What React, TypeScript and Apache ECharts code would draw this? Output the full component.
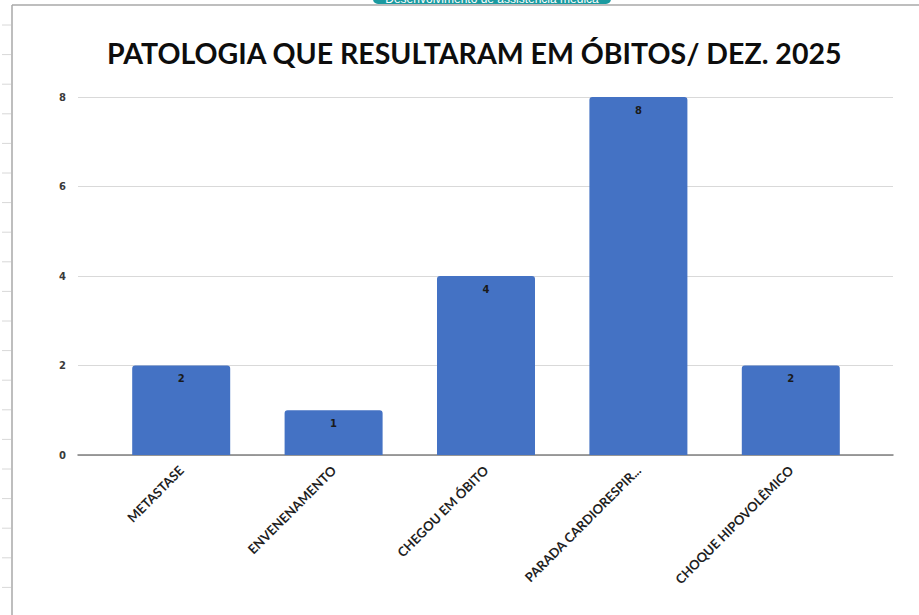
import React, { useEffect, useRef } from "react";
import * as echarts from "echarts";

const titleText = "PATOLOGIA QUE RESULTARAM EM ÓBITOS/ DEZ. 2025";
const categories = ["METASTASE", "ENVENENAMENTO", "CHEGOU EM ÓBITO", "PARADA CARDIORESPIR...", "CHOQUE HIPOVOLÊMICO"];
const deaths = [2, 1, 4, 8, 2];
const yTicks = [0, 2, 4, 6, 8];

export default function App() {
  const ref = useRef<HTMLDivElement>(null);
  useEffect(() => {
    if (!ref.current) return;
    const chart = echarts.init(ref.current, null, { renderer: "svg" });
    const rowLines: any[] = [];
    for (let i = 0; i < 21; i++) {
      const y = 25 + i * 29.6;
      rowLines.push({
        type: "line",
        shape: { x1: 2, y1: y, x2: 11, y2: y },
        style: { stroke: "#d8d8d8", lineWidth: 1 },
        silent: true,
      });
    }
    const yMin = yTicks[0];
    const yMax = yTicks[yTicks.length - 1];
    chart.setOption({
      animation: false,
      backgroundColor: "#ffffff",
      title: {
        text: titleText,
        left: 102,
        top: 33,
        textStyle: {
          fontFamily: "Lato",
          fontWeight: "bold",
          fontSize: 28.5,
          color: "#0d0d0d",
        },
      },
      graphic: [
        ...rowLines,
        {
          type: "line",
          shape: { x1: 12, y1: 5, x2: 919, y2: 5 },
          style: { stroke: "#a8a8a8", lineWidth: 1.5 },
          silent: true,
        },
        {
          type: "line",
          shape: { x1: 12, y1: 5, x2: 12, y2: 615 },
          style: { stroke: "#a8a8a8", lineWidth: 1.5 },
          silent: true,
        },
        {
          type: "rect",
          shape: { x: 373, y: -10, width: 238, height: 14, r: 5 },
          style: { fill: "#1b9aa0" },
          silent: true,
        },
        {
          type: "text",
          x: 492,
          y: -7,
          style: {
            text: "Desenvolvimento de assistência médica",
            fill: "#ffffff",
            font: "12px 'Liberation Sans'",
            align: "center",
            verticalAlign: "top",
          },
          silent: true,
        },
      ],
      grid: [
        { left: 78, right: 26, top: 97, bottom: 160, containLabel: false },
        { left: 105, right: 52, top: 97, bottom: 160, containLabel: false },
      ],
      xAxis: [
        {
          type: "category",
          gridIndex: 0,
          data: [""],
          axisLine: { show: true, lineStyle: { color: "#7f7f7f", width: 1.5 } },
          axisTick: { show: false },
          axisLabel: { show: false },
        },
        {
          type: "category",
          gridIndex: 1,
          data: categories,
          axisLine: { show: false },
          axisTick: { show: false },
          axisLabel: {
            rotate: 45,
            margin: 13,
            interval: 0,
            fontFamily: "Lato",
            fontWeight: "bold",
            fontSize: 13,
            color: "#1f1f1f",
          },
        },
      ],
      yAxis: [
        {
          type: "value",
          gridIndex: 0,
          min: yMin,
          max: yMax,
          interval: 2,
          axisLine: { show: false },
          axisTick: { show: false },
          splitLine: { lineStyle: { color: "#d9d9d9", width: 1 } },
          axisLabel: {
            margin: 12,
            fontFamily: "DejaVu Sans",
            fontWeight: "bold",
            fontSize: 10,
            color: "#3a3a3a",
          },
        },
        {
          type: "value",
          gridIndex: 1,
          min: yMin,
          max: yMax,
          interval: 2,
          show: false,
          splitLine: { show: false },
        },
      ],
      series: [
        {
          type: "bar",
          xAxisIndex: 1,
          yAxisIndex: 1,
          data: deaths,
          barWidth: 98,
          itemStyle: { color: "#4472c4", borderRadius: [3, 3, 0, 0] },
          label: {
            show: true,
            position: "insideTop",
            distance: 8,
            fontFamily: "DejaVu Sans",
            fontWeight: "bold",
            fontSize: 10,
            color: "#1a1a1a",
          },
        },
      ],
    });
    return () => chart.dispose();
  }, []);
  return (
    <div
      ref={ref}
      style={{ position: "fixed", left: 0, top: 0, width: 919, height: 615 }}
    />
  );
}
